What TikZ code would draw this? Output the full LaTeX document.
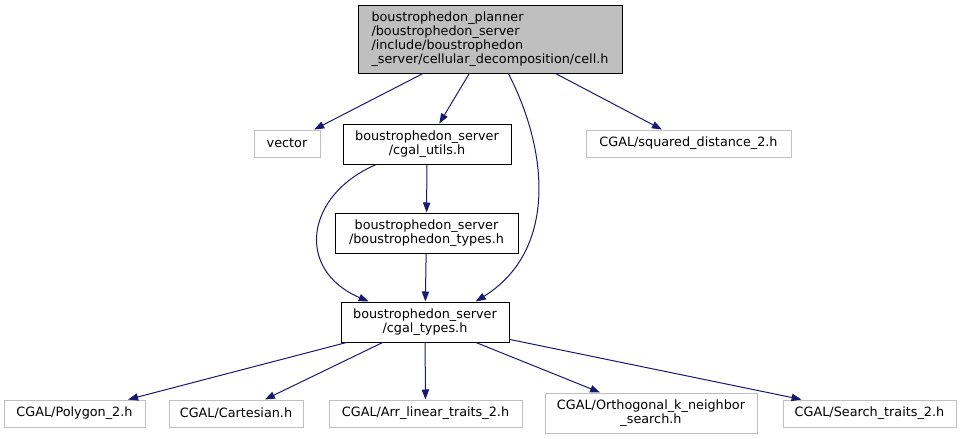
\documentclass[tikz,border=0pt]{standalone}
\usepackage{fontspec}
\setmainfont{DejaVu Sans}
\usetikzlibrary{arrows.meta}
\definecolor{edgeblue}{HTML}{191970}
\definecolor{extgray}{HTML}{BFBFBF}

\begin{document}
\begin{tikzpicture}[
  x=0.75pt, y=-0.75pt,
  font=\fontsize{9.6}{10.5}\selectfont,
  header/.style={draw=black, line width=0.75pt, align=center, inner sep=0pt,
    minimum height=30pt},
  extern/.style={draw=extgray, line width=0.75pt, align=center, inner sep=0pt,
    minimum height=20.25pt},
  incl/.style={-{Triangle[length=7.5pt,width=5.5pt]}, line width=0.75pt, draw=edgeblue}
]
\useasboundingbox (0,0) rectangle (961,439);

\node[header, fill=extgray, align=left, minimum width=198pt, minimum height=51pt] (cell) at (490,39)
  {boustrophedon\_planner\\/boustrophedon\_server\\/include/boustrophedon\\\_server/cellular\_decomposition/cell.h};

\node[extern, minimum width=49.5pt] (vector) at (287,143.5) {vector};
\node[header, minimum width=126pt] (utils) at (427,144) {boustrophedon\_server\\/cgal\_utils.h};
\node[extern, minimum width=153.75pt] (sqdist) at (688.5,143.5) {CGAL/squared\_distance\_2.h};
\node[header, minimum width=137.25pt] (btypes) at (426.5,233) {boustrophedon\_server\\/boustrophedon\_types.h};
\node[header, minimum width=126pt] (types) at (425,322) {boustrophedon\_server\\/cgal\_types.h};

\node[extern, minimum width=105.75pt] (polygon) at (74.5,413.5) {CGAL/Polygon\_2.h};
\node[extern, minimum width=100.5pt] (cartesian) at (236,413.5) {CGAL/Cartesian.h};
\node[extern, minimum width=144.75pt] (arr) at (425.5,413.5) {CGAL/Arr\_linear\_traits\_2.h};
\node[extern, minimum width=159pt, minimum height=30pt] (ortho) at (651,413) {CGAL/Orthogonal\_k\_neighbor\\\_search.h};
\node[extern, minimum width=129.75pt] (search) at (869.5,413.5) {CGAL/Search\_traits\_2.h};

\draw[incl] (cell) -- (vector);
\draw[incl] (cell) -- (utils);
\draw[incl] (cell.298) .. controls (548,150) and (558,250) .. (types.22);
\draw[incl] (cell) -- (sqdist);
\draw[incl] (utils) -- (btypes);
\draw[incl] (utils.202) .. controls (305,195) and (295,270) .. (types.160);
\draw[incl] (btypes) -- (types);
\foreach \t in {polygon,cartesian,arr,ortho,search}
  \draw[incl] (types) -- (\t);
\end{tikzpicture}
\end{document}
